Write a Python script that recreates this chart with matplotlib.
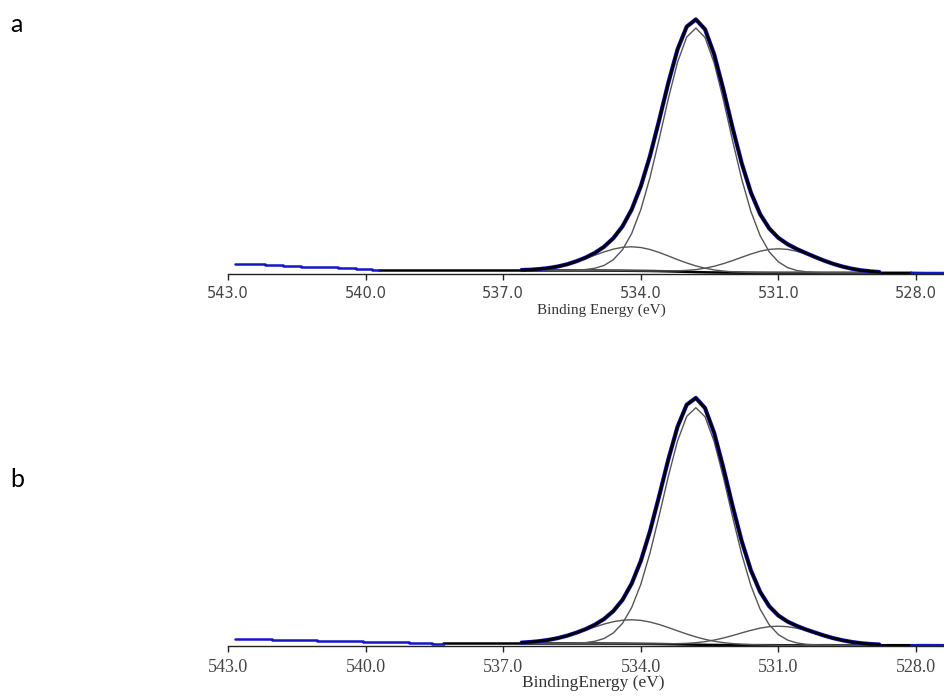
import numpy as np
import matplotlib.pyplot as plt

# O 1s fits: common 0.2 eV grid, 536.6 -> 528.8 eV
energia = np.round(536.6 - 0.2 * np.arange(40), 1)

# --- spectrum a ---
main_a = [0, 0, 0, 0, 0, 0.1, 0.4, 1.0, 2.3, 5.2,
          10.9, 20.9, 37.2, 61.3, 93.5, 132.1, 172.7, 209.3, 234.8, 244,
          234.8, 209.3, 172.7, 132.1, 93.5, 61.3, 37.2, 20.9, 10.9, 5.2,
          2.3, 1.0, 0.4, 0.1, 0, 0, 0, 0, 0, 0]
left_a = [0.5, 0.8, 1.5, 2.5, 4.1, 6.2, 8.9, 12, 15.4, 18.7,
          21.5, 23.4, 24, 23.4, 21.5, 18.7, 15.4, 12, 8.9, 6.2,
          4.1, 2.5, 1.5, 0.8, 0.5, 0.2, 0, 0, 0, 0,
          0, 0, 0, 0, 0, 0, 0, 0, 0, 0]
right_a = [0, 0, 0, 0, 0, 0, 0, 0, 0, 0,
           0, 0, 0, 0, 0, 0.2, 0.5, 0.8, 1.5, 2.5,
           4.1, 6.2, 8.9, 12, 15.4, 18.7, 21.5, 23.4, 24, 23.4,
           21.5, 18.7, 15.4, 12, 8.9, 6.2, 4.1, 2.5, 1.5, 0.8]
bg_a = [3.5, 3.5, 3.5, 3.5, 3.5, 3.5, 3.5, 3.5, 3.45, 3.4,
        3.35, 3.3, 3.2, 3.1, 3.0, 2.85, 2.65, 2.4, 2.15, 1.9,
        1.7, 1.55, 1.45, 1.38, 1.32, 1.28, 1.25, 1.22, 1.2, 1.2,
        1.2, 1.2, 1.2, 1.2, 1.2, 1.2, 1.2, 1.2, 1.2, 1.2]
bg_ends_a = [539.7, 528.1]
raw_left_e_a = [542.85, 542.4, 542.0, 541.6, 541.2, 540.8, 540.4, 540.0, 539.7]
raw_left_a = [10, 9.5, 8.5, 8, 7, 6.5, 6, 5, 4]
raw_right_e_a = [528.1, 527.8, 527.4]
raw_right_a = [1.2, 1.0, 1.0]

# --- spectrum b ---
main_b = [0, 0, 0, 0, 0, 0.1, 0.4, 0.9, 2.3, 5.1,
          10.6, 20.3, 36.1, 59.5, 90.8, 128.3, 167.8, 203.3, 228.1, 237,
          228.1, 203.3, 167.8, 128.3, 90.8, 59.5, 36.1, 20.3, 10.6, 5.1,
          2.3, 0.9, 0.4, 0.1, 0, 0, 0, 0, 0, 0]
left_b = [0.9, 1.5, 2.4, 3.7, 5.5, 7.8, 10.5, 13.5, 16.6, 19.5,
          21.9, 23.4, 24, 23.4, 21.9, 19.5, 16.6, 13.5, 10.5, 7.8,
          5.5, 3.7, 2.4, 1.5, 0.9, 0.5, 0.3, 0.1, 0, 0,
          0, 0, 0, 0, 0, 0, 0, 0, 0, 0]
right_b = [0, 0, 0, 0, 0, 0, 0, 0, 0, 0,
           0, 0, 0, 0, 0, 0.2, 0.4, 0.7, 1.2, 2.0,
           3.2, 4.9, 7.0, 9.5, 12.2, 14.8, 17, 18.5, 19, 18.5,
           17, 14.8, 12.2, 9.5, 7.0, 4.9, 3.2, 2.0, 1.2, 0.7]
bg_b = [2.5, 2.5, 2.5, 2.5, 2.5, 2.5, 2.5, 2.5, 2.47, 2.43,
        2.4, 2.35, 2.28, 2.2, 2.1, 2.0, 1.85, 1.67, 1.48, 1.3,
        1.15, 1.05, 0.98, 0.93, 0.9, 0.87, 0.85, 0.83, 0.8, 0.8,
        0.8, 0.8, 0.8, 0.8, 0.8, 0.8, 0.8, 0.8, 0.8, 0.8]
bg_ends_b = [538.3, 528.1]
raw_left_e_b = [542.85, 542.3, 541.8, 541.3, 540.8, 540.3, 539.8, 539.3, 538.8, 538.3]
raw_left_b = [7.5, 7, 6.5, 6, 5, 5, 4.5, 4, 3, 2.5]
raw_right_e_b = [528.1, 527.8, 527.4]
raw_right_b = [0.8, 0.9, 0.8]

ticks = [543.0, 540.0, 537.0, 534.0, 531.0, 528.0]

W, H = 944, 697
fig = plt.figure(figsize=(W / 100, H / 100), dpi=100)
plt.rcParams['lines.solid_joinstyle'] = 'round'
plt.rcParams['lines.solid_capstyle'] = 'round'


def painel(y_eixo, comps, bg, bg_ends, raw_l, raw_r, tick_font, tick_size,
           xlabel, xlabel_pos, xlabel_size):
    ax = fig.add_axes([228 / W, 1 - y_eixo / H, 716 / W, 260 / H])
    ax.set_xlim(543, 527.39)
    ax.set_ylim(0, 260)
    for s in ['top', 'right', 'left']:
        ax.spines[s].set_visible(False)
    ax.spines['bottom'].set_color('#222222')
    ax.spines['bottom'].set_linewidth(1.0)
    ax.set_yticks([])
    ax.set_xticks(ticks)
    ax.set_xticklabels([f'{t:.1f}' for t in ticks], family=tick_font, size=tick_size,
                       color='#444444')
    ax.tick_params(axis='x', direction='out', length=4, width=1, color='#222222', pad=5)

    bg = np.array(bg)
    # background, extended to the region limits
    bx = [bg_ends[0]] + list(energia) + [bg_ends[1]]
    by = [bg[0]] + list(bg) + [bg[-1]]
    ax.plot(bx, by, color='black', lw=1.8, zorder=2)

    # fitted components
    for c in comps:
        ax.plot(energia, np.array(c) + bg, color='#555555', lw=1.0, zorder=3)

    env = bg + sum(np.array(c) for c in comps)
    # measured data
    ax.plot(raw_l[0], raw_l[1], color='#1515c8', lw=1.8, drawstyle='steps-mid', zorder=4)
    ax.plot(raw_r[0], raw_r[1], color='#1515c8', lw=1.8, zorder=4)
    ax.plot(energia, env, color='#1515c8', lw=3.0, zorder=4)
    # envelope
    ax.plot(energia, env, color='black', lw=2.0, zorder=5)

    fig.text(xlabel_pos[0] / W, 1 - xlabel_pos[1] / H, xlabel, family='Liberation Serif',
             size=xlabel_size, color='#333333', ha='center', va='center')
    return ax


painel(274, [main_a, left_a, right_a], bg_a, bg_ends_a,
       (raw_left_e_a, raw_left_a), (raw_right_e_a, raw_right_a),
       'DejaVu Sans', 10.5, 'Binding Energy (eV)', (601, 310), 11)
painel(646, [main_b, left_b, right_b], bg_b, bg_ends_b,
       (raw_left_e_b, raw_left_b), (raw_right_e_b, raw_right_b),
       'Liberation Serif', 13, 'BindingEnergy (eV)', (593, 683), 12.5)

fig.text(10 / W, 1 - 32 / H, 'a', family='Lato', size=18, color='black', va='baseline')
fig.text(10 / W, 1 - 487 / H, 'b', family='Lato', size=18, color='black', va='baseline')

fig.savefig('out.png', dpi=100)
